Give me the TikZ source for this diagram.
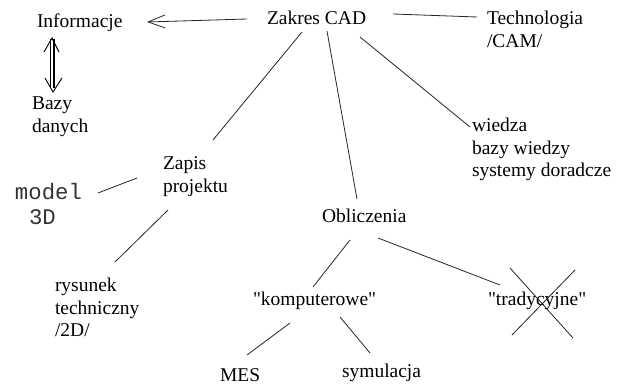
\documentclass[tikz,border=0pt]{standalone}
\usepackage{fontspec}
\setmainfont{Liberation Serif}[Ligatures=TeXOff]
\newfontfamily\monofam{Liberation Mono}
\usetikzlibrary{arrows.meta}
\begin{document}
\begin{tikzpicture}[x=1pt,y=-1pt,
  lbl/.style={anchor=base west,inner sep=0pt,outer sep=0pt,align=left,
    font=\fontsize{19.5}{22.5}\selectfont},
  monolbl/.style={lbl,text=black!80,font=\monofam\fontsize{22.3}{25}\selectfont},
  link/.style={draw=black!85,line width=0.8pt},
  openarrow/.style={link,-{Straight Barb[length=17pt,width=13pt,line width=0.8pt]}},
  dblshaft/.style={draw=black,line width=1.2pt,double,double distance=2.6pt},
  chevron/.style={draw=black,line width=0.9pt,line join=miter},
  crossout/.style={draw=black!85,line width=0.8pt}]
\useasboundingbox[fill=white] (0,0) rectangle (635,387);

% labels (base anchor sits on the last line of each label)
\node[lbl] (zak) at (267,25) {Zakres CAD};
\node[lbl] (info) at (37,28) {Informacje};
\node[lbl] (tech) at (487,47.5) {Technologia\\/CAM/};
\node[lbl] (bazy) at (32,132.5) {Bazy\\danych};
\node[lbl] (wied) at (472,177) {wiedza\\bazy wiedzy\\systemy doradcze};
\node[lbl] (zap) at (163,192.5) {Zapis\\projektu};
\node[monolbl] (mod) at (15,225) {model\\\hspace*{14pt}3D};
\node[lbl] (obl) at (322,223) {Obliczenia};
\node[lbl] (rys) at (55,337) {rysunek\\techniczny\\/2D/};
\node[lbl] (komp) at (253,306) {"komputerowe"};
\node[lbl] (trad) at (488,306) {"tradycyjne"};
\node[lbl] (mes) at (220,382) {MES};
\node[lbl] (sym) at (342,378) {symulacja};

% connectors
\draw[openarrow] ([shift={(-20,-6)}]zak.base west) -- ([shift={(110,-6)}]info.base west);
\draw[link] ([shift={(126,-11)}]zak.base west) -- ([shift={(-10,-30.5)}]tech.base west);
\draw[link] ([shift={(35,7)}]zak.base west) -- ([shift={(50,-52.5)}]zap.base west);
\draw[link] ([shift={(60,6)}]zak.base west) -- ([shift={(35,-24)}]obl.base west);
\draw[link] ([shift={(93,12)}]zak.base west) -- ([shift={(-2,-50)}]wied.base west);
\draw[link] ([shift={(83,-32)}]mod.base west) -- ([shift={(-26,-14.5)}]zap.base west);
\draw[link] ([shift={(5,17.5)}]zap.base west) -- ([shift={(60,-75)}]rys.base west);
\draw[link] ([shift={(28,17)}]obl.base west) -- ([shift={(60,-19)}]komp.base west);
\draw[link] ([shift={(56,15)}]obl.base west) -- ([shift={(12,-21)}]trad.base west);
\draw[link] ([shift={(37,17)}]komp.base west) -- ([shift={(27,-27)}]mes.base west);
\draw[link] ([shift={(87,11)}]komp.base west) -- ([shift={(28,-25)}]sym.base west);

% two-way double arrow between Informacje and Bazy danych
\draw[dblshaft] ([shift={(15,11)}]info.base west) -- ([shift={(20,-44)}]bazy.base west);
\draw[chevron] ([shift={(15,10)}]info.base west) ++(-8,14) -- ++(8,-14) -- ++(7,14);
\draw[chevron] ([shift={(21,-40.5)}]bazy.base west) ++(-8,-14) -- ++(8,14) -- ++(9,-14);

% struck-out option
\draw[crossout] ([shift={(22,-38)}]trad.base west) -- ([shift={(85,32)}]trad.base west);
\draw[crossout] ([shift={(87,-36)}]trad.base west) -- ([shift={(24,29)}]trad.base west);
\end{tikzpicture}
\end{document}
